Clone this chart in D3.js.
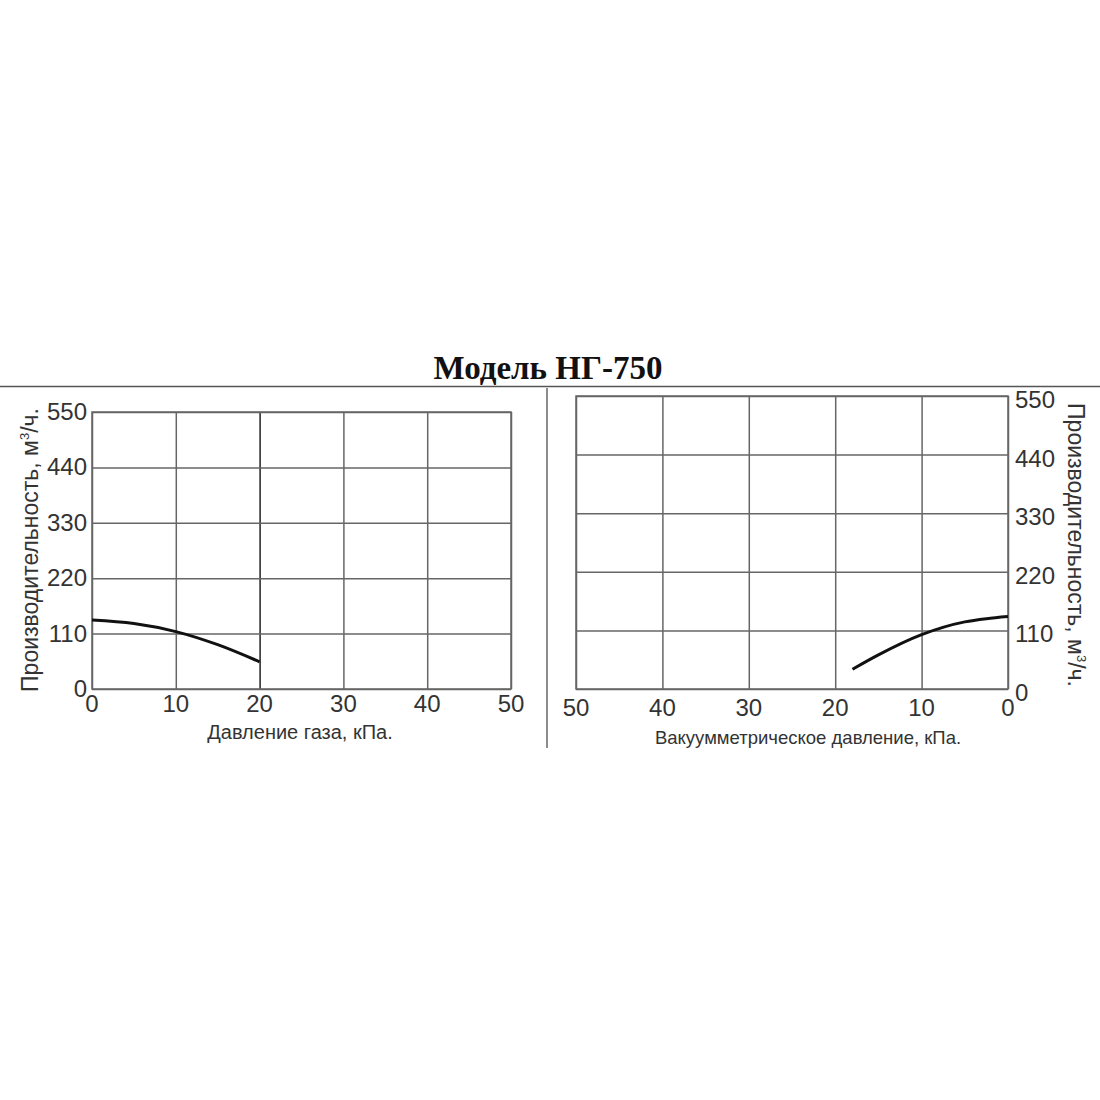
<!DOCTYPE html>
<html><head><meta charset="utf-8">
<script src="https://cdn.jsdelivr.net/npm/d3@7"></script>
<style>
body{margin:0;background:#fff;}
svg{display:block;}
</style></head>
<body>
<svg id="c" width="1100" height="1100"></svg>
<script>
const title = "Модель НГ-750";
const yTicks = [0,110,220,330,440,550];
const xTicks = [0,10,20,30,40,50];
const leftXLabel = "Давление газа, кПа.";
const rightXLabel = "Вакуумметрическое давление, кПа.";
const yLabelMain = "Производительность, м";
const yLabelEnd = "/ч.";
// left: gas pressure (kPa) vs capacity (m3/h)
const leftP = [0,5,10,15,20];
const leftQ = [137,130,114,88,54];
// right: vacuum pressure (kPa) vs capacity
const rightP = [18,15,10,5,2.5,0];
const rightQ = [37,64,102,126,132,136];

const svg = d3.select("#c");
svg.append("rect").attr("width",1100).attr("height",1100).attr("fill","#fff");

svg.append("text").attr("x",548).attr("y",379).attr("text-anchor","middle")
  .attr("font-family","'Liberation Serif','Times New Roman',serif").attr("font-weight","bold")
  .attr("font-size",33).attr("fill","#111").text(title);
svg.append("line").attr("x1",0).attr("x2",1100).attr("y1",386.5).attr("y2",386.5)
  .attr("stroke","#555").attr("stroke-width",1.5);
svg.append("line").attr("x1",547).attr("x2",547).attr("y1",388).attr("y2",748)
  .attr("stroke","#666").attr("stroke-width",1.5);

const font = "'Liberation Sans',Arial,sans-serif";

function panel(o){
  const x = d3.scaleLinear().domain(o.xd).range([o.x0,o.x1]);
  const y = d3.scaleLinear().domain([0,550]).range([o.y0,o.y1]);
  const g = svg.append("g");
  // grid
  const gx = g.append("g").attr("transform",`translate(0,${o.y0})`)
    .call(d3.axisBottom(x).tickValues(xTicks).tickSize(-(o.y0-o.y1)).tickFormat(""));
  gx.select(".domain").remove();
  gx.selectAll("line").attr("stroke",d=>(o.dark!==undefined&&d===o.dark)?"#222":"#666").attr("stroke-width",1.5);
  const gy = g.append("g").attr("transform",`translate(${o.x0<o.x1?o.x0:o.x1},0)`)
    .call(d3.axisRight(y).tickValues(yTicks).tickSize(Math.abs(o.x1-o.x0)).tickFormat(""));
  gy.select(".domain").remove();
  gy.selectAll("line").attr("stroke","#666").attr("stroke-width",1.5);
  g.append("rect").attr("x",Math.min(o.x0,o.x1)).attr("y",o.y1)
    .attr("width",Math.abs(o.x1-o.x0)).attr("height",o.y0-o.y1)
    .attr("fill","none").attr("stroke","#666").attr("stroke-width",1.5);
  // x tick labels
  g.selectAll(".xl").data(xTicks).enter().append("text")
    .attr("x",d=>x(d)).attr("y",o.y0+o.xlOff).attr("text-anchor","middle")
    .attr("font-family",font).attr("font-size",o.fs).attr("fill","#333").text(d=>d);
  // y tick labels
  g.selectAll(".yl").data(yTicks).enter().append("text")
    .attr("x",o.ylx).attr("y",d=>y(d)+o.ylOff).attr("text-anchor",o.ylAnchor)
    .attr("font-family",font).attr("font-size",o.fs).attr("fill","#333").text(d=>d);
  // curve
  const line = d3.line().x(d=>x(d[0])).y(d=>y(d[1])).curve(d3.curveMonotoneX);
  g.append("path").datum(o.P.map((p,i)=>[p,o.Q[i]]))
    .attr("d",line).attr("fill","none").attr("stroke","#111").attr("stroke-width",3);
  // x title
  g.append("text").attr("x",o.xtx).attr("y",o.xty).attr("text-anchor","middle")
    .attr("font-family",font).attr("font-size",o.xtfs).attr("fill","#333").text(o.xt);
  // y title
  const t = g.append("text").attr("transform",`translate(${o.ytx},${o.yty}) rotate(${o.rot})`)
    .attr("text-anchor","middle").attr("font-family",font).attr("font-size",23).attr("fill","#333");
  t.append("tspan").text(yLabelMain);
  t.append("tspan").attr("dy",-9).attr("font-size",13).text("3");
  t.append("tspan").attr("dy",9).text(yLabelEnd);
}

panel({xd:[0,50],x0:92,x1:511,y0:689,y1:412,dark:20,fs:24,xlOff:23,ylx:87,ylOff:8,ylAnchor:"end",
  P:leftP,Q:leftQ,xt:leftXLabel,xtfs:20,xtx:300,xty:739,ytx:38,yty:550,rot:-90});
panel({xd:[50,0],x0:576,x1:1008,y0:689,y1:396,fs:24,xlOff:27,ylx:1015,ylOff:12,ylAnchor:"start",
  P:rightP,Q:rightQ,xt:rightXLabel,xtfs:18.5,xtx:808,xty:744,ytx:1068,yty:545,rot:90});
</script>
</body></html>
